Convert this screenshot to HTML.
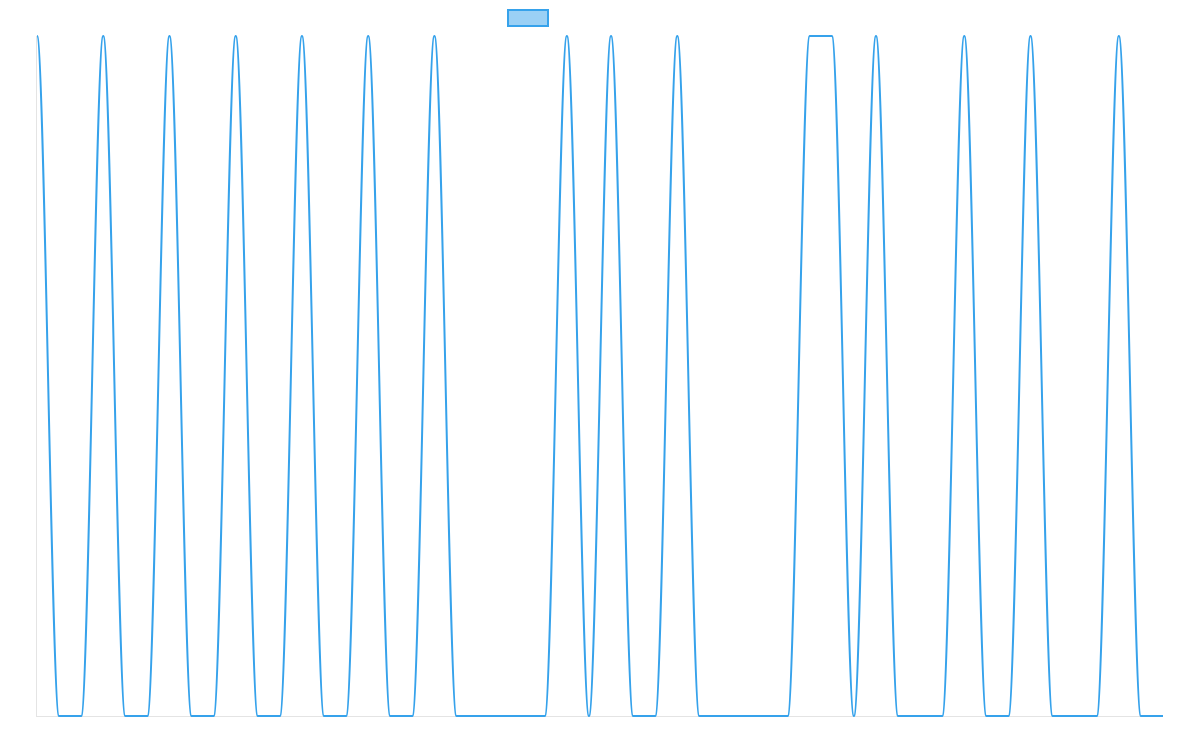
<!DOCTYPE html>
<html><head><meta charset="utf-8"><style>
html,body{margin:0;padding:0;background:#fff;width:1200px;height:750px;overflow:hidden}
</style></head><body>
<svg width="1200" height="750" xmlns="http://www.w3.org/2000/svg">
<line x1="36.5" y1="36" x2="36.5" y2="716.5" stroke="#e4e4e4" stroke-width="1"/>
<line x1="36" y1="716.5" x2="1163" y2="716.5" stroke="#e4e4e4" stroke-width="1"/>
<rect x="508" y="10" width="40" height="16" fill="rgba(54,162,235,0.5)" stroke="#36a2eb" stroke-width="2"/>
<path fill="none" stroke="#36a2eb" stroke-width="2" d="M37,36
C44.36,36 51.72,716 59.08,716 L81.16,716
C88.52,716 95.88,36 103.24,36 C110.6,36 117.95,716 125.31,716 L147.39,716
C154.75,716 162.11,36 169.47,36 C176.83,36 184.19,716 191.55,716 L213.63,716
C220.99,716 228.35,36 235.71,36 C243.07,36 250.42,716 257.78,716 L279.86,716
C287.22,716 294.58,36 301.94,36 C309.3,36 316.66,716 324.02,716 L346.10,716
C353.46,716 360.82,36 368.18,36 C375.54,36 382.89,716 390.25,716 L412.33,716
C419.69,716 427.05,36 434.41,36 C441.77,36 449.13,716 456.49,716 L544.80,716
C552.16,716 559.52,36 566.88,36 C574.24,36 581.6,716 588.96,716
C596.32,716 603.68,36 611.04,36 C618.4,36 625.76,716 633.12,716 L655.20,716
C662.56,716 669.91,36 677.27,36 C684.63,36 691.99,716 699.35,716 L787.67,716
C795.03,716 802.39,36 809.75,36 L831.82,36
C839.18,36 846.54,716 853.90,716 C861.26,716 868.62,36 875.98,36
C883.34,36 890.7,716 898.06,716 L942.22,716
C949.58,716 956.93,36 964.29,36 C971.65,36 979.01,716 986.37,716 L1008.45,716
C1015.81,716 1023.17,36 1030.53,36 C1037.89,36 1045.25,716 1052.61,716 L1096.76,716
C1104.12,716 1111.48,36 1118.84,36 C1126.2,36 1133.56,716 1140.92,716 L1163,716"/>
</svg>
</body></html>
